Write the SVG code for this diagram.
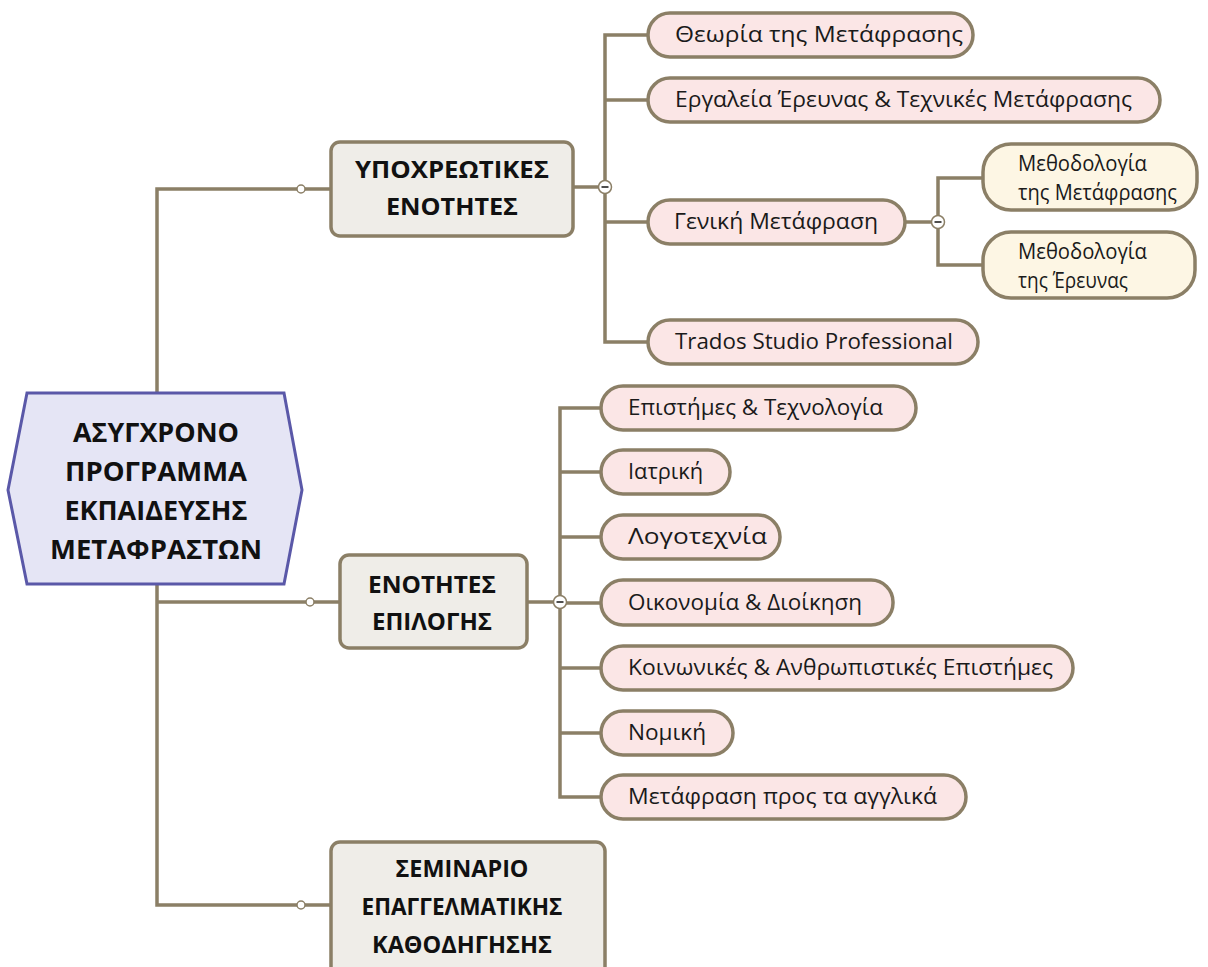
<svg xmlns="http://www.w3.org/2000/svg" width="1208" height="967" viewBox="0 0 1208 967">
<defs>
<style>
.conn{fill:none;stroke:#8b7f66;stroke-width:3.5}
.dot{fill:#ffffff;stroke:#8b7f66;stroke-width:1.5}
.minus{fill:#ffffff;stroke:#8b7f66;stroke-width:1.5}
.minusbar{stroke:#222;stroke-width:1.6}
.pink{fill:#fbe6e6;stroke:#8b7f66;stroke-width:3.5}
.beige{fill:#fdf6e4;stroke:#8b7f66;stroke-width:3.5}
.grey{fill:#efede8;stroke:#8b7f66;stroke-width:3.5}
.hex{fill:#e5e5f5;stroke:#5a58a8;stroke-width:3}
.t{font-family:"Open Sans","Noto Sans",sans-serif;font-size:22px;fill:#1a1a1a}
.s{font-family:"Open Sans","Noto Sans",sans-serif;font-size:21px;fill:#1a1a1a}
.b{font-family:"Open Sans","Noto Sans",sans-serif;font-weight:bold;font-size:24px;fill:#111;text-anchor:middle}
.h{font-family:"Open Sans","Noto Sans",sans-serif;font-weight:bold;font-size:27px;fill:#111;text-anchor:middle}
</style>
</defs>
<rect width="1208" height="967" fill="#ffffff"/>
<g id="connectors">
<path class="conn" d="M157 393 V189 H331"/>
<path class="conn" d="M157 584 V905 H331"/>
<path class="conn" d="M157 602 H340"/>
<path class="conn" d="M573 187 H605"/>
<path class="conn" d="M648 35 H605 V342 H648"/>
<path class="conn" d="M605 100 H648"/>
<path class="conn" d="M605 222 H648"/>
<path class="conn" d="M905 222 H938"/>
<path class="conn" d="M983 178 H938 V265 H983"/>
<path class="conn" d="M527 602 H560"/>
<path class="conn" d="M601 408 H560 V797 H601"/>
<path class="conn" d="M560 472 H601"/>
<path class="conn" d="M560 537 H601"/>
<path class="conn" d="M560 603 H601"/>
<path class="conn" d="M560 668 H601"/>
<path class="conn" d="M560 733 H601"/>
<circle class="dot" cx="301" cy="189" r="4"/>
<circle class="dot" cx="310" cy="602" r="4"/>
<circle class="dot" cx="301" cy="905" r="4"/>
<circle class="minus" cx="605" cy="187" r="6.5"/><line class="minusbar" x1="601.5" y1="187" x2="608.5" y2="187"/>
<circle class="minus" cx="938" cy="222" r="6.5"/><line class="minusbar" x1="934.5" y1="222" x2="941.5" y2="222"/>
<circle class="minus" cx="560" cy="602" r="6.5"/><line class="minusbar" x1="556.5" y1="602" x2="563.5" y2="602"/>
</g>
<g id="root">
<polygon class="hex" points="27,393 284,393 302,490 284,584 27,584 8,490"/>
<text class="h" x="156" y="442" textLength="166" lengthAdjust="spacingAndGlyphs">ΑΣΥΓΧΡΟΝΟ</text>
<text class="h" x="156" y="481" textLength="182" lengthAdjust="spacingAndGlyphs">ΠΡΟΓΡΑΜΜΑ</text>
<text class="h" x="156" y="520" textLength="183" lengthAdjust="spacingAndGlyphs">ΕΚΠΑΙΔΕΥΣΗΣ</text>
<text class="h" x="156" y="559" textLength="212" lengthAdjust="spacingAndGlyphs">ΜΕΤΑΦΡΑΣΤΩΝ</text>
</g>
<g id="n-ypoxreotikes">
<rect class="grey" x="331" y="142" width="242" height="94" rx="9"/>
<text class="b" x="452" y="178" textLength="194" lengthAdjust="spacingAndGlyphs">ΥΠΟΧΡΕΩΤΙΚΕΣ</text>
<text class="b" x="452" y="215" textLength="132" lengthAdjust="spacingAndGlyphs">ΕΝΟΤΗΤΕΣ</text>
</g>
<g id="n-epilogis">
<rect class="grey" x="340" y="555" width="187" height="93" rx="9"/>
<text class="b" x="432" y="593" textLength="128" lengthAdjust="spacingAndGlyphs">ΕΝΟΤΗΤΕΣ</text>
<text class="b" x="432" y="630" textLength="120" lengthAdjust="spacingAndGlyphs">ΕΠΙΛΟΓΗΣ</text>
</g>
<g id="n-seminario">
<rect class="grey" x="331" y="842" width="274" height="135" rx="9"/>
<text class="b" x="462" y="877" textLength="133" lengthAdjust="spacingAndGlyphs">ΣΕΜΙΝΑΡΙΟ</text>
<text class="b" x="462" y="915" textLength="201" lengthAdjust="spacingAndGlyphs">ΕΠΑΓΓΕΛΜΑΤΙΚΗΣ</text>
<text class="b" x="462" y="953" textLength="180" lengthAdjust="spacingAndGlyphs">ΚΑΘΟΔΗΓΗΣΗΣ</text>
</g>
<g id="n-theoria">
<rect class="pink" x="648" y="13" width="325" height="44" rx="22"/>
<text class="t" x="675" y="42" textLength="288" lengthAdjust="spacingAndGlyphs">Θεωρία της Μετάφρασης</text>
</g>
<g id="n-ergaleia">
<rect class="pink" x="648" y="78" width="512" height="44" rx="22"/>
<text class="t" x="675" y="107" textLength="457" lengthAdjust="spacingAndGlyphs">Εργαλεία Έρευνας &amp; Τεχνικές Μετάφρασης</text>
</g>
<g id="n-geniki">
<rect class="pink" x="648" y="200" width="257" height="44" rx="22"/>
<text class="t" x="674" y="229" textLength="204" lengthAdjust="spacingAndGlyphs">Γενική Μετάφραση</text>
</g>
<g id="n-trados">
<rect class="pink" x="648" y="320" width="330" height="44" rx="22"/>
<text class="t" x="675" y="349" textLength="278" lengthAdjust="spacingAndGlyphs">Trados Studio Professional</text>
</g>
<g id="n-meth-metafrasis">
<rect class="beige" x="983" y="144" width="214" height="66" rx="28"/>
<text class="s" x="1018" y="171" textLength="129" lengthAdjust="spacingAndGlyphs">Μεθοδολογία</text>
<text class="s" x="1018" y="200" textLength="159" lengthAdjust="spacingAndGlyphs">της Μετάφρασης</text>
</g>
<g id="n-meth-erevnas">
<rect class="beige" x="983" y="232" width="212" height="66" rx="28"/>
<text class="s" x="1018" y="259" textLength="129" lengthAdjust="spacingAndGlyphs">Μεθοδολογία</text>
<text class="s" x="1018" y="288" textLength="110" lengthAdjust="spacingAndGlyphs">της Έρευνας</text>
</g>
<g id="n-epistimes">
<rect class="pink" x="601" y="386" width="315" height="44" rx="22"/>
<text class="t" x="628" y="415" textLength="255" lengthAdjust="spacingAndGlyphs">Επιστήμες &amp; Τεχνολογία</text>
</g>
<g id="n-iatriki">
<rect class="pink" x="601" y="450" width="129" height="44" rx="22"/>
<text class="t" x="628" y="479" textLength="75" lengthAdjust="spacingAndGlyphs">Ιατρική</text>
</g>
<g id="n-logotexnia">
<rect class="pink" x="601" y="515" width="179" height="44" rx="22"/>
<text class="t" x="628" y="544" textLength="139" lengthAdjust="spacingAndGlyphs">Λογοτεχνία</text>
</g>
<g id="n-oikonomia">
<rect class="pink" x="601" y="580" width="292" height="45" rx="22"/>
<text class="t" x="628" y="610" textLength="234" lengthAdjust="spacingAndGlyphs">Οικονομία &amp; Διοίκηση</text>
</g>
<g id="n-koinonikes">
<rect class="pink" x="601" y="646" width="472" height="44" rx="22"/>
<text class="t" x="628" y="675" textLength="425" lengthAdjust="spacingAndGlyphs">Κοινωνικές &amp; Ανθρωπιστικές Επιστήμες</text>
</g>
<g id="n-nomiki">
<rect class="pink" x="601" y="711" width="132" height="44" rx="22"/>
<text class="t" x="628" y="740" textLength="78" lengthAdjust="spacingAndGlyphs">Νομική</text>
</g>
<g id="n-metafrasi-agglika">
<rect class="pink" x="601" y="775" width="365" height="44" rx="22"/>
<text class="t" x="628" y="804" textLength="309" lengthAdjust="spacingAndGlyphs">Μετάφραση προς τα αγγλικά</text>
</g>
</svg>
